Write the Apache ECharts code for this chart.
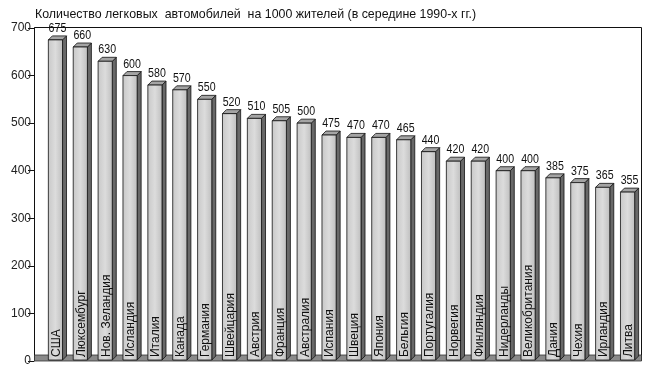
<!DOCTYPE html>
<html><head><meta charset="utf-8">
<script src="https://cdn.jsdelivr.net/npm/echarts@6/dist/echarts.min.js"></script>
<style>html,body{margin:0;padding:0;background:#fff}#c{width:651px;height:368px}</style>
</head><body><div id="c"></div>
<script>
const titleText = 'Количество легковых  автомобилей  на 1000 жителей (в середине 1990-х гг.)';
const countries = ['США','Люксембург','Нов. Зеландия','Исландия','Италия','Канада','Германия','Швейцария','Австрия','Франция','Австралия','Испания','Швеция','Япония','Бельгия','Португалия','Норвегия','Финляндия','Нидерланды','Великобритания','Дания','Чехия','Ирландия','Литва'];
const values = [675,660,630,600,580,570,550,520,510,505,500,475,470,470,465,440,420,420,400,400,385,375,365,355];
const yMin = 0, yMax = 700, yStep = 100;

const FONT = "'Liberation Sans',Arial,sans-serif";
const chart = echarts.init(document.getElementById('c'), null, {renderer:'canvas'});
const D = 4;
chart.setOption({
  animation:false,
  grid:{left:42,right:12,top:28,bottom:7,containLabel:false},
  graphic:[
    {type:'text',x:35,y:15,z:10,style:{text:titleText,textVerticalAlign:'middle',textAlign:'left',fill:'#111',font:'12.4px '+FONT}},
    {type:'rect',shape:{x:34.5,y:27.5,width:607,height:333},style:{fill:'none',stroke:'#111',lineWidth:1},z:0},
    {type:'rect',shape:{x:34.5,y:355,width:607,height:6},style:{fill:'#8a8a8a',stroke:'#333',lineWidth:0.8},z:1}
  ],
  xAxis:{type:'category',data:countries,boundaryGap:true,axisLine:{show:false},axisTick:{show:false},axisLabel:{show:false},splitLine:{show:false}},
  yAxis:{type:'value',min:yMin,max:yMax,interval:yStep,offset:8,
    axisLine:{show:true,lineStyle:{color:'#111',width:1}},
    axisTick:{show:true,length:6,lineStyle:{color:'#111'}},
    axisLabel:{color:'#222',fontSize:12,margin:3,fontFamily:FONT},
    splitLine:{show:false}},
  series:[{
    type:'custom',
    clip:false,
    z:5,
    data:values.map((v,i)=>[i,v]),
    renderItem:function(params,api){
      const i=api.value(0), v=api.value(1);
      const top=api.coord([i,v]);
      const bot=api.coord([i,0]);
      const w=api.size([1,0])[0]*0.57;
      const x0=top[0]-w/2+1, x1=x0+w;
      const yT=top[1], yB=bot[1]-1;
      return {type:'group',children:[
        {type:'polygon',shape:{points:[[x1,yT],[x1+D,yT-D],[x1+D,yB-D],[x1,yB]]},style:{fill:'#686868',stroke:'#111',lineWidth:0.8}},
        {type:'polygon',shape:{points:[[x0,yT],[x1,yT],[x1+D,yT-D],[x0+D,yT-D]]},style:{fill:'#a4a4a4',stroke:'#111',lineWidth:0.8}},
        {type:'rect',shape:{x:x0,y:yT,width:w,height:yB-yT},style:{
          fill:new echarts.graphic.LinearGradient(0,0,1,0,[{offset:0,color:'#c8c8c8'},{offset:0.5,color:'#dcdcdc'},{offset:1,color:'#bebebe'}]),
          stroke:'#111',lineWidth:0.8}},
        {type:'text',x:x0+w/2+1,y:yB-3,rotation:Math.PI/2,style:{text:countries[i],textAlign:'left',textVerticalAlign:'middle',fill:'#111',font:'12px '+FONT}},
        {type:'text',x:x0+w/2+D/2,y:yT-D-1,scaleX:0.85,style:{text:String(v),textAlign:'center',textVerticalAlign:'bottom',fill:'#111',font:'12.5px '+FONT}}
      ]};
    }
  }]
});
</script></body></html>
